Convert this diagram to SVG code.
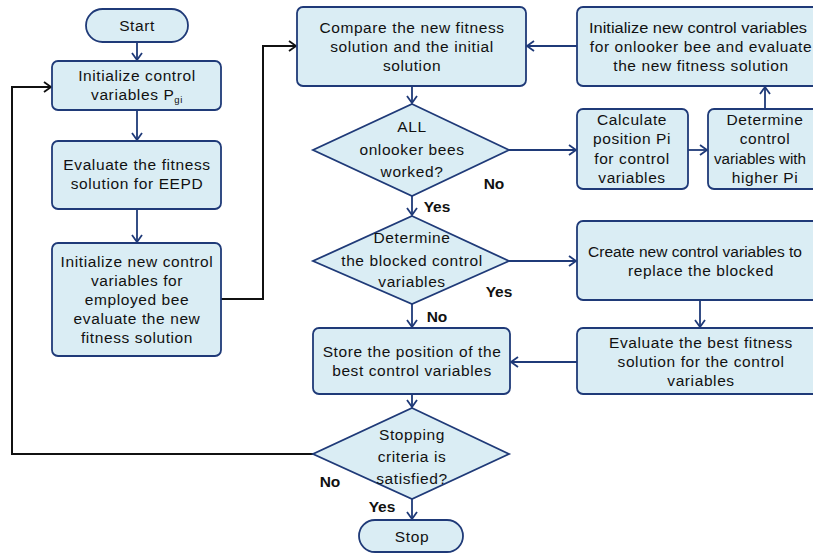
<svg xmlns="http://www.w3.org/2000/svg" width="813" height="554" viewBox="0 0 813 554">
<style>
.n{fill:#DAEDF4;stroke:#1F3A78;stroke-width:1.8}
.t{font-family:"Liberation Sans",Arial,sans-serif;font-size:15.5px;letter-spacing:0.6px;fill:#111;text-anchor:middle}
.f{letter-spacing:0}
.l{font-family:"Liberation Sans",Arial,sans-serif;font-size:15.5px;font-weight:bold;fill:#111;text-anchor:middle}
.c{fill:none;stroke:#1F3A78;stroke-width:1.8}
.k{fill:none;stroke:#111;stroke-width:2}
</style>
<defs>
<marker id="a" markerWidth="10" markerHeight="12" refX="8" refY="6" orient="auto" markerUnits="userSpaceOnUse"><path d="M1,1 L8,6 L1,11" fill="none" stroke="#1F3A78" stroke-width="1.8"/></marker>
<marker id="b" markerWidth="10" markerHeight="12" refX="8" refY="6" orient="auto" markerUnits="userSpaceOnUse"><path d="M1,1 L8,6 L1,11" fill="none" stroke="#111" stroke-width="1.8"/></marker>
</defs>
<rect width="813" height="554" fill="#fff"/>
<g id="connectors">
<path class="c" d="M137,42 V60" marker-end="url(#a)"/>
<path class="c" d="M137,110 V140" marker-end="url(#a)"/>
<path class="c" d="M137,209 V242" marker-end="url(#a)"/>
<path class="k" d="M221,299 H263 V46 H296" marker-end="url(#b)"/>
<path class="c" d="M412,86 V103" marker-end="url(#a)"/>
<path class="c" d="M509,150 H576" marker-end="url(#a)"/>
<path class="c" d="M688,150 H707" marker-end="url(#a)"/>
<path class="c" d="M765,109 V87" marker-end="url(#a)"/>
<path class="c" d="M577,46 H527" marker-end="url(#a)"/>
<path class="c" d="M412,196 V215" marker-end="url(#a)"/>
<path class="c" d="M509,261 H576" marker-end="url(#a)"/>
<path class="c" d="M700,300 V327" marker-end="url(#a)"/>
<path class="c" d="M577,362 H511" marker-end="url(#a)"/>
<path class="c" d="M412,304 V327" marker-end="url(#a)"/>
<path class="c" d="M412,394 V407" marker-end="url(#a)"/>
<path class="c" d="M412,499 V519" marker-end="url(#a)"/>
<path class="k" d="M313,454 H12 V87 H51" marker-end="url(#b)"/>
</g>
<g id="start"><rect class="n" x="86" y="9" width="102" height="33" rx="16.5"/><text class="t" x="137" y="31">Start</text></g>
<g id="init"><rect class="n" x="52" y="61" width="169" height="49" rx="6"/><text class="t" x="137" y="81">Initialize control</text><text class="t" x="137" y="100">variables P<tspan font-size="9.5" dy="3">gi</tspan></text></g>
<g id="evalfit"><rect class="n" x="52" y="141" width="169" height="68" rx="6"/><text class="t" x="137" y="170">Evaluate the fitness</text><text class="t" x="137" y="189">solution for EEPD</text></g>
<g id="employed"><rect class="n" x="52" y="243" width="169" height="113" rx="6"/><text class="t" x="137" y="267">Initialize new control</text><text class="t" x="137" y="286">variables for</text><text class="t" x="137" y="305">employed bee</text><text class="t" x="137" y="324">evaluate the new</text><text class="t" x="137" y="343">fitness solution</text></g>
<g id="compare"><rect class="n" x="297" y="7" width="229" height="79" rx="6"/><text class="t" x="412" y="33">Compare the new fitness</text><text class="t" x="412" y="52">solution and the initial</text><text class="t" x="412" y="71">solution</text></g>
<g id="onlooker"><rect class="n" x="577" y="7" width="248" height="79" rx="6"/><text class="t f" x="698" y="33" textLength="218" lengthAdjust="spacingAndGlyphs">Initialize new control variables</text><text class="t" x="701" y="52">for onlooker bee and evaluate</text><text class="t" x="701" y="71">the new fitness solution</text></g>
<g id="allbees"><polygon class="n" points="412,104 509,150 412,196 313,150"/><text class="t" x="412" y="132">ALL</text><text class="t" x="412" y="155">onlooker bees</text><text class="t" x="412" y="177">worked?</text></g>
<g id="calc"><rect class="n" x="577" y="109" width="111" height="80" rx="6"/><text class="t" x="632" y="125">Calculate</text><text class="t" x="632" y="144">position Pi</text><text class="t" x="632" y="164">for control</text><text class="t" x="632" y="183">variables</text></g>
<g id="determine"><rect class="n" x="708" y="109" width="114" height="80" rx="6"/><text class="t" x="765" y="125">Determine</text><text class="t" x="765" y="144">control</text><text class="t f" x="760" y="164" textLength="92" lengthAdjust="spacingAndGlyphs">variables with</text><text class="t" x="765" y="183">higher Pi</text></g>
<g id="blocked"><polygon class="n" points="412,216 509,261 412,304 313,261"/><text class="t" x="412" y="243">Determine</text><text class="t" x="412" y="266">the blocked control</text><text class="t" x="412" y="287">variables</text></g>
<g id="create"><rect class="n" x="577" y="221" width="248" height="79" rx="6"/><text class="t f" x="695" y="257" textLength="214" lengthAdjust="spacingAndGlyphs">Create new control variables to</text><text class="t" x="701" y="276">replace the blocked</text></g>
<g id="evalbest"><rect class="n" x="577" y="328" width="248" height="66" rx="6"/><text class="t" x="701" y="348">Evaluate the best fitness</text><text class="t" x="701" y="367">solution for the control</text><text class="t" x="701" y="386">variables</text></g>
<g id="store"><rect class="n" x="313" y="328" width="197" height="66" rx="6"/><text class="t" x="412" y="357">Store the position of the</text><text class="t" x="412" y="376">best control variables</text></g>
<g id="stopping"><polygon class="n" points="412,408 509,454 412,499 313,454"/><text class="t" x="412" y="440">Stopping</text><text class="t" x="412" y="462">criteria is</text><text class="t" x="412" y="484">satisfied?</text></g>
<g id="stop"><rect class="n" x="359" y="520" width="104" height="32" rx="16"/><text class="t" x="412" y="542">Stop</text></g>
<g id="labels">
<text class="l" x="494" y="189">No</text>
<text class="l" x="437" y="212">Yes</text>
<text class="l" x="499" y="297">Yes</text>
<text class="l" x="437" y="322">No</text>
<text class="l" x="330" y="487">No</text>
<text class="l" x="382" y="512">Yes</text>
</g>
</svg>
